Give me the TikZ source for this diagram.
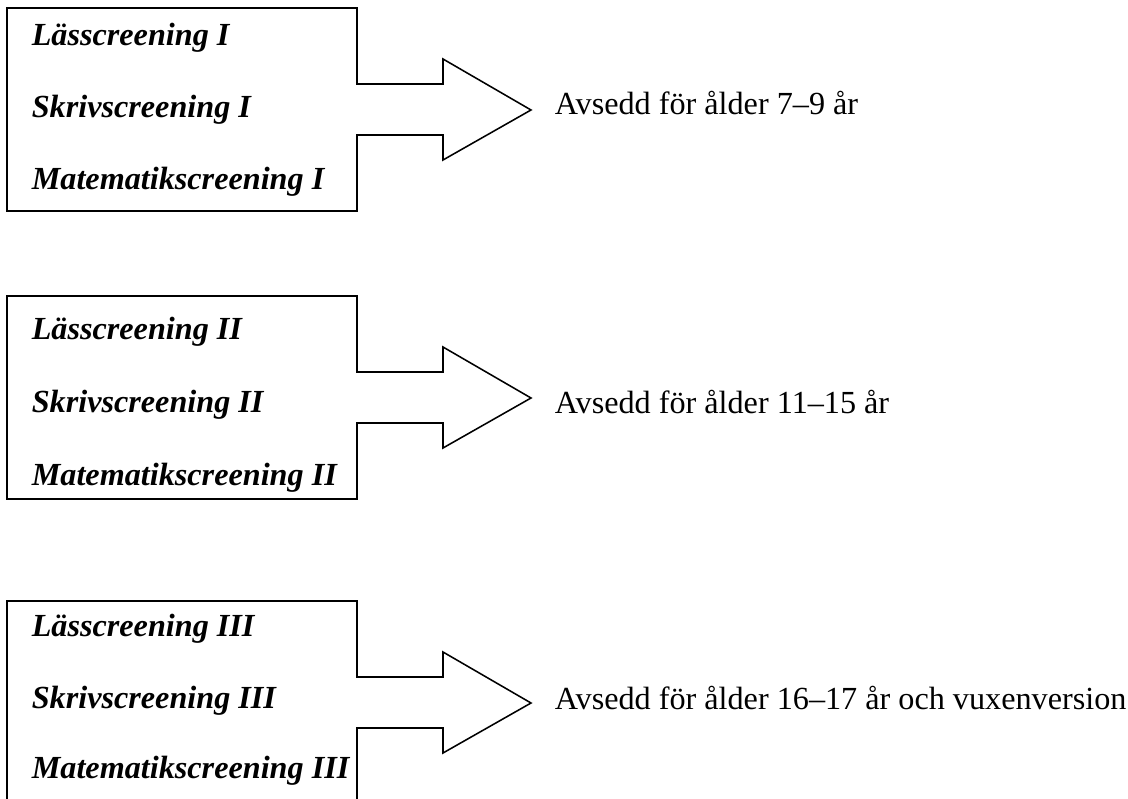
\documentclass[tikz,border=0pt]{standalone}
\usepackage{fontspec}
\setmainfont{Liberation Serif}
\usepackage{tikz}
\usetikzlibrary{positioning}

\begin{document}
\begin{tikzpicture}[
            x = 0.025cm, % one unit is one pixel
            y = -0.025cm,
            line width = 1.1pt, % line style
            line join = miter,
            font = \fontsize{22.9}{27}\selectfont
        ]

        \tikzstyle{test}=[
            anchor = base west,
            inner sep = 0pt,
            font = \fontsize{22.9}{27}\selectfont\bfseries\itshape
        ]
        \tikzstyle{age}=[
            anchor = base west,
            inner sep = 0pt
        ]

        \clip (0,0) rectangle (1128,799);

	% first level
        \begin{scope}[shift={(0,8)}]
        \draw (7,0) -- (357,0) -- (357,76) -- (443,76) -- (443,51) -- (531,102)
              -- (443,152) -- (443,127) -- (357,127) -- (357,203) -- (7,203) -- cycle;
        \node[test] (L1) at (31,38) {Lässcreening I};
        \node[test] (S1) at (31,110) {Skrivscreening I};
        \node[test] (M1) at (31,182) {Matematikscreening I};
        \node[age] (A1) at (554,107) {Avsedd för ålder 7–9 år};
        \end{scope}

	% second level
        \begin{scope}[shift={(0,296)}]
        \draw (7,0) -- (357,0) -- (357,76) -- (443,76) -- (443,51) -- (531,102)
              -- (443,152) -- (443,127) -- (357,127) -- (357,203) -- (7,203) -- cycle;
        \node[test] (L2) at (31,44) {Lässcreening II};
        \node[test] (S2) at (31,116) {Skrivscreening II};
        \node[test] (M2) at (31,189) {Matematikscreening II};
        \node[age] (A2) at (554,117) {Avsedd för ålder 11–15 år};
        \end{scope}

	% third level
        \begin{scope}[shift={(0,601)}]
        \draw (7,0) -- (357,0) -- (357,76) -- (443,76) -- (443,51) -- (531,102)
              -- (443,152) -- (443,127) -- (357,127) -- (357,203) -- (7,203) -- cycle;
        \node[test] (L3) at (31,35) {Lässcreening III};
        \node[test] (S3) at (31,107) {Skrivscreening III};
        \node[test] (M3) at (31,177) {Matematikscreening III};
        \node[age] (A3) at (554,108) {Avsedd för ålder 16–17 år och vuxenversion};
        \end{scope}

\end{tikzpicture}
\end{document}
